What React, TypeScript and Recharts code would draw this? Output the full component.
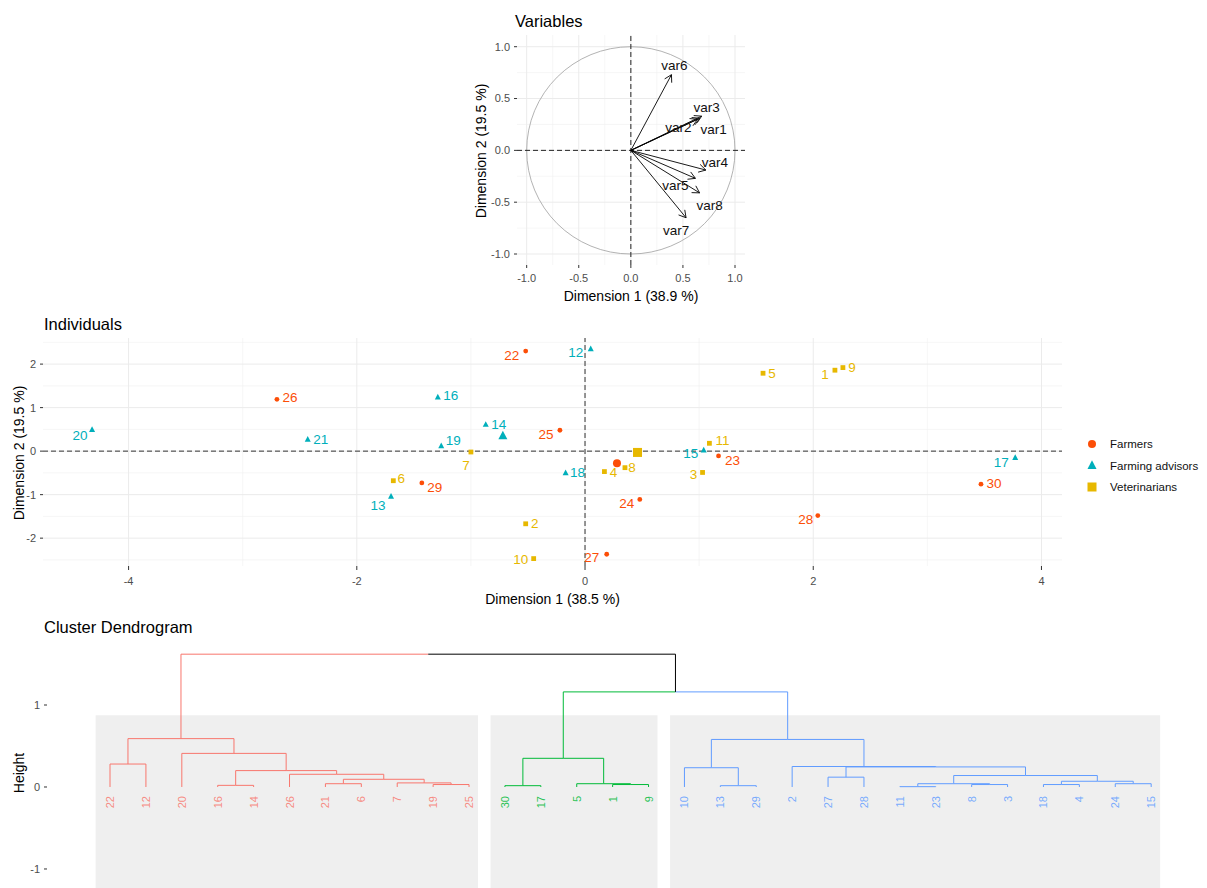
import React from 'react';
import {
  ScatterChart,
  Scatter,
  XAxis,
  YAxis,
  CartesianGrid,
  ReferenceLine,
  ReferenceArea
} from 'recharts';

const FONT = '"Liberation Sans", Arial, Helvetica, sans-serif';
const TICK = { fontSize: 11, fill: '#4D4D4D', fontFamily: FONT };

// Variables (correlation circle), coordinates on dimensions 1 and 2
const varNames = ['var1', 'var2', 'var3', 'var4', 'var5', 'var6', 'var7', 'var8'];
const varDim1 = [0.66, 0.64, 0.68, 0.72, 0.62, 0.39, 0.53, 0.66];
const varDim2 = [0.31, 0.30, 0.33, -0.19, -0.27, 0.73, -0.65, -0.41];

// Individuals
const groupNames = ['Farmers', 'Farming advisors', 'Veterinarians'];
const groupColors = ['#FC4E07', '#00AFBB', '#E7B800'];
const indIds = [
  '1', '2', '3', '4', '5', '6', '7', '8', '9', '10',
  '11', '12', '13', '14', '15', '16', '17', '18', '19', '20',
  '21', '22', '23', '24', '25', '26', '27', '28', '29', '30'
];
const indGroup = [
  2, 2, 2, 2, 2, 2, 2, 2, 2, 2,
  2, 1, 1, 1, 1, 1, 1, 1, 1, 1,
  1, 0, 0, 0, 0, 0, 0, 0, 0, 0
];
const indDim1 = [
  2.19, -0.52, 1.03, 0.17, 1.56, -1.68, -1.0, 0.35, 2.26, -0.45,
  1.09, 0.05, -1.7, -0.87, 1.04, -1.29, 3.77, -0.17, -1.26, -4.32,
  -2.43, -0.52, 1.17, 0.48, -0.22, -2.7, 0.19, 2.04, -1.43, 3.47
];
const indDim2 = [
  1.86, -1.67, -0.49, -0.47, 1.79, -0.68, -0.02, -0.38, 1.92, -2.47,
  0.18, 2.35, -1.04, 0.61, 0.02, 1.24, -0.15, -0.5, 0.12, 0.49,
  0.27, 2.3, -0.11, -1.11, 0.48, 1.19, -2.37, -1.48, -0.73, -0.76
];
const centroidDim1 = [0.28, -0.72, 0.46];
const centroidDim2 = [-0.28, 0.35, -0.03];

// Cluster dendrogram
const leafOrder = [
  '22', '12', '20', '16', '14', '26', '21', '6', '7', '19', '25',
  '30', '17', '5', '1', '9',
  '10', '13', '29', '2', '27', '28', '11', '23', '8', '3', '18', '4', '24', '15'
];
const clusterSizes = [11, 5, 14];
const clusterColors = ['#F8766D', '#00BA38', '#619CFF'];
const merges: [string, string, string, number][] = [
  ['m1', '16', '14', 0.02],
  ['m2', '21', '6', 0.04],
  ['m3', '19', '25', 0.03],
  ['m4', '7', 'm3', 0.05],
  ['m5', 'm2', 'm4', 0.094],
  ['m6', '26', 'm5', 0.155],
  ['m7', 'm1', 'm6', 0.2],
  ['m8', '20', 'm7', 0.41],
  ['m9', '22', '12', 0.28],
  ['m10', 'm9', 'm8', 0.59],
  ['m11', '30', '17', 0.016],
  ['m12', '1', '9', 0.03],
  ['m13', '5', 'm12', 0.04],
  ['m14', 'm11', 'm13', 0.35],
  ['m15', '13', '29', 0.016],
  ['m16', '10', 'm15', 0.235],
  ['m17', '27', '28', 0.12],
  ['m18', '11', '23', 0.004],
  ['m19', '8', '3', 0.03],
  ['m20', 'm18', 'm19', 0.04],
  ['m21', '18', '4', 0.03],
  ['m22', '24', '15', 0.04],
  ['m23', 'm21', 'm22', 0.07],
  ['m24', 'm20', 'm23', 0.14],
  ['m25', 'm17', 'm24', 0.245],
  ['m26', '2', 'm25', 0.25],
  ['m27', 'm16', 'm26', 0.58],
  ['m28', 'm14', 'm27', 1.16],
  ['m29', 'm10', 'm28', 1.62]
];
const rectTop = 0.875;

// label placement (pixel offset of the label centre from its point)
const varLabelNudge: Record<string, [number, number]> = {
  var1: [14, 11], var2: [-19, 8], var3: [5, -9], var4: [9, -8],
  var5: [-20, 7], var6: [3, -9], var7: [-10, 13], var8: [10, 13]
};
const indLabelNudge: Record<string, [number, number]> = {
  '1': [-10, 4], '2': [9, 0], '3': [-9, 2], '4': [9, 1], '5': [9, 0],
  '6': [8, -2], '7': [-5, 13], '8': [7, 0], '9': [9, 0], '10': [-13, 1],
  '11': [13, -3], '12': [-15, 4], '13': [-13, 9], '14': [13, 0], '15': [-13, 3],
  '16': [13, -2], '17': [-14, 5], '18': [12, 0], '19': [12, -5], '20': [-12, 6],
  '21': [13, 0], '22': [-14, 4], '23': [14, 5], '24': [-13, 4], '25': [-14, 4],
  '26': [13, -2], '27': [-15, 3], '28': [-12, 4], '29': [13, 5], '30': [13, -1]
};

function Txt({ x, y, size, children, anchor = 'start', rotate = false, color = '#000' }: any) {
  let transform = anchor === 'middle' ? 'translate(-50%, -50%)' : 'translate(0, -50%)';
  if (rotate) transform = 'translate(-50%, -50%) rotate(-90deg)';
  return (
    <div
      style={{
        position: 'absolute', left: x, top: y, fontSize: size, lineHeight: 1,
        whiteSpace: 'nowrap', color, transform, fontFamily: FONT
      }}
    >
      {children}
    </div>
  );
}

function ArrowShape(p: any) {
  const { x1, y1, x2, y2 } = p;
  const ang = Math.atan2(y2 - y1, x2 - x1);
  const len = 8;
  const spread = Math.PI / 6;
  const ax = x2 - len * Math.cos(ang - spread);
  const ay = y2 - len * Math.sin(ang - spread);
  const bx = x2 - len * Math.cos(ang + spread);
  const by = y2 - len * Math.sin(ang + spread);
  return (
    <g>
      <line x1={x1} y1={y1} x2={x2} y2={y2} stroke="#000" strokeWidth={0.9} />
      <polyline points={`${ax},${ay} ${x2},${y2} ${bx},${by}`} fill="none" stroke="#000" strokeWidth={0.9} />
    </g>
  );
}

function VariablesPanel() {
  const data = varNames.map((name, i) => ({ name, x: varDim1[i], y: varDim2[i] }));
  return (
    <div style={{ position: 'absolute', left: 470, top: 30 }}>
      <ScatterChart width={280} height={275} margin={{ top: 5, right: 5, bottom: 0, left: 0 }}>
        <CartesianGrid stroke="#F0F0F0" strokeWidth={0.6}
          verticalValues={[-0.75, -0.25, 0.25, 0.75]} horizontalValues={[-0.75, -0.25, 0.25, 0.75]} />
        <CartesianGrid stroke="#EBEBEB" strokeWidth={1}
          verticalValues={[-1, -0.5, 0, 0.5, 1]} horizontalValues={[-1, -0.5, 0, 0.5, 1]} />
        <XAxis type="number" dataKey="x" domain={[-1.093, 1.096]} ticks={[-1, -0.5, 0, 0.5, 1]}
          tickFormatter={(v: number) => v.toFixed(1)} interval={0} height={40}
          tickSize={3} tickMargin={6} axisLine={false} tickLine={{ stroke: '#333' }} tick={TICK} />
        <YAxis type="number" dataKey="y" domain={[-1.106, 1.113]} ticks={[-1, -0.5, 0, 0.5, 1]}
          tickFormatter={(v: number) => v.toFixed(1)} interval={0} width={47}
          tickSize={3} tickMargin={4} axisLine={false} tickLine={{ stroke: '#333' }} tick={TICK} />
        <ReferenceArea x1={-1} x2={1} y1={-1} y2={1}
          shape={(p: any) => (
            <ellipse cx={p.x + p.width / 2} cy={p.y + p.height / 2}
              rx={Math.abs(p.width) / 2} ry={Math.abs(p.height) / 2}
              fill="none" stroke="#A0A0A0" strokeWidth={0.8} />
          )} />
        <ReferenceLine x={0} stroke="#222" strokeDasharray="5 3" />
        <ReferenceLine y={0} stroke="#222" strokeDasharray="5 3" />
        {data.map((d) => (
          <ReferenceLine key={d.name} segment={[{ x: 0, y: 0 }, { x: d.x, y: d.y }]} shape={ArrowShape} />
        ))}
        <Scatter data={data} isAnimationActive={false}
          shape={(p: any) => {
            const [dx, dy] = varLabelNudge[p.payload.name];
            return (
              <text x={p.cx + dx} y={p.cy + dy} textAnchor="middle" dominantBaseline="central"
                fontSize={13.5} fontFamily={FONT} fill="#111">{p.payload.name}</text>
            );
          }} />
      </ScatterChart>
    </div>
  );
}

function Marker({ g, cx, cy, big }: { g: number; cx: number; cy: number; big?: boolean }) {
  const color = groupColors[g];
  if (g === 0) return <circle cx={cx} cy={cy} r={big ? 4 : 2.4} fill={color} />;
  if (g === 1) {
    const s = big ? 4.5 : 3;
    return (
      <polygon points={`${cx},${cy - s * 1.15} ${cx - s},${cy + s * 0.75} ${cx + s},${cy + s * 0.75}`} fill={color} />
    );
  }
  const s = big ? 4.5 : 2.4;
  return <rect x={cx - s} y={cy - s} width={2 * s} height={2 * s} fill={color} />;
}

function IndividualsPanel() {
  const all = indIds.map((id, i) => ({ id, g: indGroup[i], x: indDim1[i], y: indDim2[i] }));
  const centroids = groupNames.map((name, g) => ({ name, g, x: centroidDim1[g], y: centroidDim2[g] }));
  return (
    <div style={{ position: 'absolute', left: 0, top: 330 }}>
      <ScatterChart width={1070} height={278} margin={{ top: 8, right: 8, bottom: 0, left: 0 }}>
        <CartesianGrid stroke="#F0F0F0" strokeWidth={0.6}
          verticalValues={[-3, -1, 1, 3]} horizontalValues={[-2.5, -1.5, -0.5, 0.5, 1.5, 2.5]} />
        <CartesianGrid stroke="#EBEBEB" strokeWidth={1}
          verticalValues={[-4, -2, 0, 2, 4]} horizontalValues={[-2, -1, 0, 1, 2]} />
        <XAxis type="number" dataKey="x" domain={[-4.75, 4.18]} ticks={[-4, -2, 0, 2, 4]} interval={0}
          height={42} tickSize={4} tickMargin={7} axisLine={false} tickLine={{ stroke: '#333' }} tick={TICK} />
        <YAxis type="number" dataKey="y" domain={[-2.64, 2.6]} ticks={[-2, -1, 0, 1, 2]} interval={0}
          width={43} tickSize={3} tickMargin={4} axisLine={false} tickLine={{ stroke: '#333' }} tick={TICK} />
        <ReferenceLine x={0} stroke="#333" strokeDasharray="5 3" />
        <ReferenceLine y={0} stroke="#333" strokeDasharray="5 3" />
        {groupNames.map((name, g) => (
          <Scatter key={name} name={name} data={all.filter((d) => d.g === g)} isAnimationActive={false}
            shape={(p: any) => {
              const [dx, dy] = indLabelNudge[p.payload.id];
              return (
                <g>
                  <Marker g={g} cx={p.cx} cy={p.cy} />
                  <text x={p.cx + dx} y={p.cy + dy} textAnchor="middle" dominantBaseline="central"
                    fontSize={13.5} fontFamily={FONT} fill={groupColors[g]}>{p.payload.id}</text>
                </g>
              );
            }} />
        ))}
        <Scatter data={centroids} isAnimationActive={false}
          shape={(p: any) => <Marker g={p.payload.g} cx={p.cx} cy={p.cy} big />} />
      </ScatterChart>
    </div>
  );
}

function Legend() {
  const rows = [444, 465.5, 487];
  return (
    <svg style={{ position: 'absolute', left: 1080, top: 430 }} width={127} height={70}>
      {groupNames.map((name, g) => (
        <g key={name}>
          <Marker g={g} cx={12} cy={rows[g] - 430} big />
          <text x={30} y={rows[g] - 430} dominantBaseline="central" fontSize={11.5}
            fontFamily={FONT} fill="#111">{name}</text>
        </g>
      ))}
    </svg>
  );
}

function buildDendrogram() {
  const nodes: Record<string, { x: number; h: number; cluster: number }> = {};
  const clusterOfPos: number[] = [];
  clusterSizes.forEach((n, k) => {
    for (let i = 0; i < n; i++) clusterOfPos.push(k);
  });
  leafOrder.forEach((id, i) => {
    nodes[id] = { x: i + 1, h: 0, cluster: clusterOfPos[i] };
  });
  const segments: { a: { x: number; y: number }; b: { x: number; y: number }; color: string }[] = [];
  merges.forEach(([name, left, right, h]) => {
    const A = nodes[left];
    const B = nodes[right];
    const node = { x: (A.x + B.x) / 2, h, cluster: A.cluster === B.cluster ? A.cluster : -1 };
    nodes[name] = node;
    [A, B].forEach((c) => {
      const color = c.cluster >= 0 ? clusterColors[c.cluster] : '#000';
      segments.push({ a: { x: c.x, y: c.h }, b: { x: c.x, y: h }, color });
      segments.push({ a: { x: c.x, y: h }, b: { x: node.x, y: h }, color });
    });
  });
  const leaves = leafOrder.map((id, i) => ({ id, x: i + 1, y: 0, cluster: clusterOfPos[i] }));
  return { segments, leaves };
}

function DendrogramPanel() {
  const { segments, leaves } = buildDendrogram();
  const yMin = -1.232;
  let start = 1;
  const rects = clusterSizes.map((n) => {
    const r = { x1: start - 0.4, x2: start + n - 1 + 0.25 };
    start += n;
    return r;
  });
  return (
    <div style={{ position: 'absolute', left: 0, top: 645 }}>
      <ScatterChart width={1200} height={243} margin={{ top: 0, right: 0, bottom: 0, left: 0 }}>
        <XAxis type="number" dataKey="x" domain={[-0.755, 31.36]} hide />
        <YAxis type="number" dataKey="y" domain={[yMin, 1.732]} ticks={[-1, 0, 1]} interval={0}
          width={47} tickSize={3} tickMargin={4} axisLine={false} tickLine={{ stroke: '#333' }} tick={TICK} />
        {rects.map((r, k) => (
          <ReferenceArea key={k} x1={r.x1} x2={r.x2} y1={yMin} y2={rectTop}
            fill="#EFEFEF" fillOpacity={1} stroke="none" />
        ))}
        {segments.map((s, i) => (
          <ReferenceLine key={i} segment={[s.a, s.b]} stroke={s.color} strokeWidth={1} ifOverflow="visible" />
        ))}
        <Scatter data={leaves} isAnimationActive={false}
          shape={(p: any) => (
            <text x={p.cx} y={p.cy + 9} textAnchor="end" dominantBaseline="central"
              transform={`rotate(-90 ${p.cx} ${p.cy + 9})`} fontSize={11} fontFamily={FONT}
              fill={clusterColors[p.payload.cluster]} fillOpacity={0.85}>{p.payload.id}</text>
          )} />
      </ScatterChart>
    </div>
  );
}

export default function App() {
  return (
    <div style={{ position: 'absolute', left: 0, top: 0, width: 1207, height: 888, background: '#fff', overflow: 'hidden', fontFamily: FONT }}>
      <VariablesPanel />
      <IndividualsPanel />
      <Legend />
      <DendrogramPanel />

      <Txt x={515} y={21} size={16.5}>Variables</Txt>
      <Txt x={631} y={296} size={14} anchor="middle">Dimension 1 (38.9 %)</Txt>
      <Txt x={481} y={151} size={14} rotate>Dimension 2 (19.5 %)</Txt>

      <Txt x={44} y={324} size={16.5}>Individuals</Txt>
      <Txt x={552.5} y={599} size={14} anchor="middle">Dimension 1 (38.5 %)</Txt>
      <Txt x={18.5} y={453} size={14} rotate>Dimension 2 (19.5 %)</Txt>

      <Txt x={44} y={627} size={16.5}>Cluster Dendrogram</Txt>
      <Txt x={18.5} y={773} size={14} rotate>Height</Txt>
    </div>
  );
}
